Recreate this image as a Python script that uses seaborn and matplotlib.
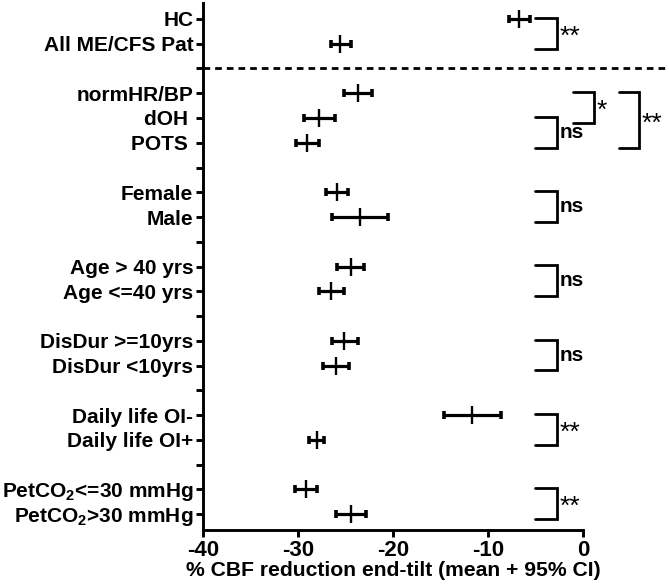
import matplotlib
matplotlib.use("Agg")
import matplotlib.pyplot as plt
import seaborn as sns
import pandas as pd
import numpy as np

# ---- data ----
row_labels = ["HC", "All ME/CFS Pat", "",
              "normHR/BP", "dOH ", "POTS ", "",
              "Female", "Male", "",
              "Age > 40 yrs", "Age <=40 yrs", "",
              "DisDur >=10yrs", "DisDur <10yrs", "",
              "Daily life OI-", "Daily life OI+", "",
              r"PetCO$\mathregular{_2}$<=30 mmHg", r"PetCO$\mathregular{_2}$>30 mmHg"]
categories = [l for l in row_labels if l != ""]
means = [-6.7, -25.6, -23.7, -27.8, -29.0, -25.9, -23.5, -24.4, -26.5,
         -25.2, -26.0, -11.7, -28.0, -29.2, -24.4]
lows = [-7.8, -26.5, -25.2, -29.4, -30.2, -27.0, -26.4, -25.9, -27.8,
        -26.4, -27.4, -14.6, -28.8, -30.3, -26.0]
highs = [-5.6, -24.4, -22.2, -26.1, -27.8, -24.7, -20.5, -23.0, -25.2,
         -23.7, -24.6, -8.6, -27.3, -28.0, -22.8]
# comparisons: (first row, second row, label, level)
comparisons = [("HC", "All ME/CFS Pat", "**", 0),
               ("normHR/BP", "dOH ", "*", 1),
               ("normHR/BP", "POTS ", "**", 2),
               ("dOH ", "POTS ", "ns", 0),
               ("Female", "Male", "ns", 0),
               ("Age > 40 yrs", "Age <=40 yrs", "ns", 0),
               ("DisDur >=10yrs", "DisDur <10yrs", "ns", 0),
               ("Daily life OI-", "Daily life OI+", "**", 0),
               (r"PetCO$\mathregular{_2}$<=30 mmHg", r"PetCO$\mathregular{_2}$>30 mmHg", "**", 0)]
xticks = [-40, -30, -20, -10, 0]
xlabel = "% CBF reduction end-tilt (mean + 95% CI)"

sns.set_theme(style="ticks")
plt.rcParams["font.family"] = ["Liberation Sans", "DejaVu Sans"]
plt.rcParams["mathtext.fontset"] = "custom"
plt.rcParams["mathtext.rm"] = "Liberation Sans"
plt.rcParams["text.color"] = "black"
plt.rcParams["axes.labelcolor"] = "black"
plt.rcParams["xtick.color"] = "black"
plt.rcParams["ytick.color"] = "black"
plt.rcParams["axes.edgecolor"] = "black"

pos = {l: i for i, l in enumerate(row_labels)}
df = pd.DataFrame({"cat": categories, "mean": means, "low": lows, "high": highs})
df["y"] = df["cat"].map(pos)

fig = plt.figure(figsize=(6.69, 5.88), dpi=100)
ax = fig.add_axes([0.3034, 0.0986, 0.568, 0.8963])

ax.errorbar(df["mean"], df["y"],
            xerr=[df["mean"] - df["low"], df["high"] - df["mean"]],
            fmt="none", ecolor="black", elinewidth=2.3, capsize=3.0, capthick=2.6, zorder=3)
sns.scatterplot(data=df, x="mean", y="y", marker="|", s=150, color="black",
                linewidth=1.7, ax=ax, zorder=4, legend=False)

ax.set_xlim(-40, 0)
ax.set_ylim(20.646, -0.646)
ax.set_xticks(xticks)
ax.set_xticklabels([str(t) for t in xticks], fontsize=16, fontweight="bold")
ax.set_yticks(range(len(row_labels)))
ax.set_yticklabels(row_labels, fontsize=15, fontweight="bold")
ax.set_xlabel(xlabel, fontsize=15.2, fontweight="bold", labelpad=0)
ax.set_ylabel("")
for s in ["top", "right"]:
    ax.spines[s].set_visible(False)
for s in ["left", "bottom"]:
    ax.spines[s].set_linewidth(2.1)
ax.tick_params(axis="both", length=5, width=2.1, color="black", pad=2)

# dashed separator
ax.plot([-40, 9.1], [2, 2], ls=(0, (2.4, 1.8)), color="black", lw=2.0, clip_on=False)

# significance brackets
level_x = {0: (-5.0, -2.75), 1: (-1.05, 1.15), 2: (3.8, 5.9)}
for a, b, txt, lev in comparisons:
    x0, x1 = level_x[lev]
    y0 = pos[a] - 0.05
    y1 = pos[b] + 0.2
    ax.plot([x0, x1, x1, x0], [y0, y0, y1, y1], color="black", lw=2.0, clip_on=False,
            solid_joinstyle="miter")
    if txt == "ns":
        ax.text(x1 + 0.3, (y0 + y1) / 2, txt, fontsize=15, fontweight="bold",
                va="center", ha="left", clip_on=False)
    else:
        ax.text(x1 + 0.3, (y0 + y1) / 2 + 0.15, txt, fontsize=19,
                va="center", ha="left", clip_on=False)

fig.savefig("out.png", dpi=100)
